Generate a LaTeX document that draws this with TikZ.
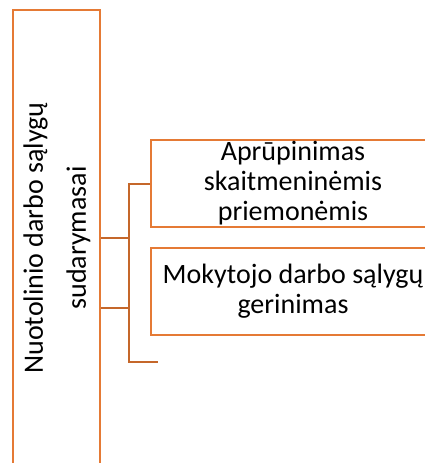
\documentclass[tikz,border=0pt]{standalone}
\usepackage{fontspec}
\setmainfont{Carlito}
\usepackage{xcolor}
\usepackage{tikz}
\usetikzlibrary{positioning,calc}
\definecolor{boxorange}{HTML}{E57A35}
\definecolor{lineorange}{HTML}{C5672A}

\begin{document}
\begin{tikzpicture}[x=1pt,y=-1pt,
    box/.style={draw=boxorange,line width=2pt,fill=white,inner sep=0pt,align=center,font=\fontsize{28}{30}\selectfont},
    link/.style={draw=lineorange,line width=2pt}]
    \useasboundingbox (0,0) rectangle (425,463);
    \clip (0,0) rectangle (425,463);

    % Left box
    \node[box,minimum width=87pt,minimum height=480pt] (main) at (56.5,250) {};
    \node[rotate=90,align=center,inner sep=0pt,font=\fontsize{28}{43}\selectfont] (maintext) at (57,238)
        {Nuotolinio darbo sąlygų\\sudarymasai};

    % Right boxes
    \node[box,minimum width=284pt,minimum height=87pt] (tools) at (293,183.5)
        {Aprūpinimas\\skaitmeninėmis\\priemonėmis};
    \node[box,minimum width=284pt,minimum height=87pt] (teacher) at (293,291.5)
        {Mokytojo darbo sąlygų\\gerinimas};

    % Connectors
    \coordinate (stub) at (158,362);
    \draw[link] (main.east |- 0,238) -- (129,238);
    \draw[link] (main.east |- 0,308) -- (129,308);
    \draw[link] (tools.west) -| (129,362) -- (stub);
\end{tikzpicture}
\end{document}
